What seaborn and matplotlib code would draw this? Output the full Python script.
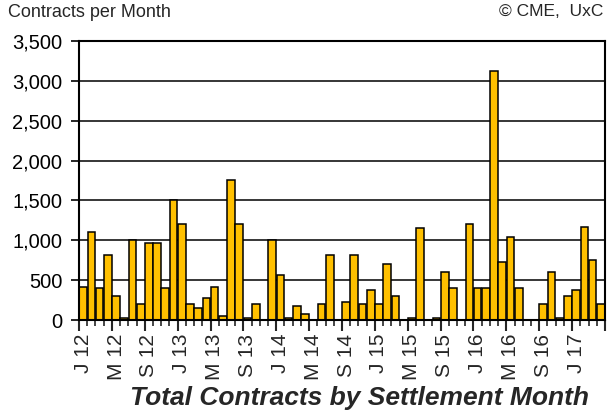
import numpy as np
import pandas as pd
import seaborn as sns
import matplotlib.pyplot as plt
from matplotlib.ticker import FuncFormatter

# monthly settlement contracts, Jan 2012 .. Apr 2017
months = [str(p) for p in pd.period_range('2012-01', '2017-04', freq='M')]
contracts = [420, 1100, 400, 820, 300, 20, 1000, 200, 970, 970, 400, 1500,
             1200, 200, 150, 270, 420, 50, 1750, 1200, 20, 200, 0, 1000,
             570, 20, 170, 70, 0, 200, 820, 0, 220, 820, 200, 375,
             200, 700, 300, 0, 20, 1150, 0, 20, 600, 400, 0, 1200,
             400, 400, 3120, 725, 1045, 400, 0, 0, 200, 600, 20, 300,
             375, 1170, 750, 200]
tick_labels = ['J 12', 'M 12', 'S 12', 'J 13', 'M 13', 'S 13', 'J 14', 'M 14',
               'S 14', 'J 15', 'M 15', 'S 15', 'J 16', 'M 16', 'S 16', 'J 17']
y_ticks = [0, 500, 1000, 1500, 2000, 2500, 3000, 3500]

df = pd.DataFrame({'month': months, 'contracts': contracts})

sns.set_style('white')
plt.rcParams['font.family'] = ['Liberation Sans', 'DejaVu Sans']

fig = plt.figure(figsize=(6.08, 4.17), dpi=100)
ax = fig.add_axes([0.130, 0.2326, 0.865, 0.6691])

sns.barplot(data=df, x='month', y='contracts', order=months, color='#FFC000',
            saturation=1, edgecolor='black', linewidth=1.1, width=0.94, ax=ax)

ax.set_xlim(-0.5, len(months) - 0.5)
ax.set_ylim(0, 3500)
ax.set_yticks(y_ticks)
ax.yaxis.set_major_formatter(FuncFormatter(lambda v, p: f'{int(v):,}'))
ax.yaxis.grid(True, color='black', linewidth=1.1)
ax.set_axisbelow(True)
ax.tick_params(axis='y', direction='out', length=6, width=1.2, labelsize=14.5,
               left=True, pad=6, colors='black')

# labels every 4 months, centred on the bar
ax.set_xticks(np.arange(0, len(months), 4))
ax.set_xticklabels(tick_labels, rotation=90, fontsize=15)
ax.tick_params(axis='x', length=0, pad=10)
ax.set_xticks(np.arange(-0.5, len(months), 1), minor=True)
ax.tick_params(axis='x', which='minor', direction='out', length=4, width=1.2,
               bottom=True)
sec = ax.secondary_xaxis('bottom')
sec.set_xticks(np.arange(-0.5, len(months), 4))
sec.set_xticklabels([])
sec.tick_params(direction='out', length=8, width=1.5)
sec.spines['bottom'].set_visible(False)

for s in ax.spines.values():
    s.set_visible(True)
    s.set_color('black')
    s.set_linewidth(1.5)

ax.set_xlabel('')
ax.set_ylabel('')

fig.text(0.013, 0.99, 'Contracts per Month', ha='left', va='top', fontsize=13)
fig.text(0.993, 0.99, '\u00a9 CME,  UxC', ha='right', va='top', fontsize=12.5)
fig.text(0.592, 0.045, 'Total Contracts by Settlement Month', ha='center',
         va='center', fontsize=19, fontweight='bold', style='italic')

fig.savefig('out.png', dpi=100)
